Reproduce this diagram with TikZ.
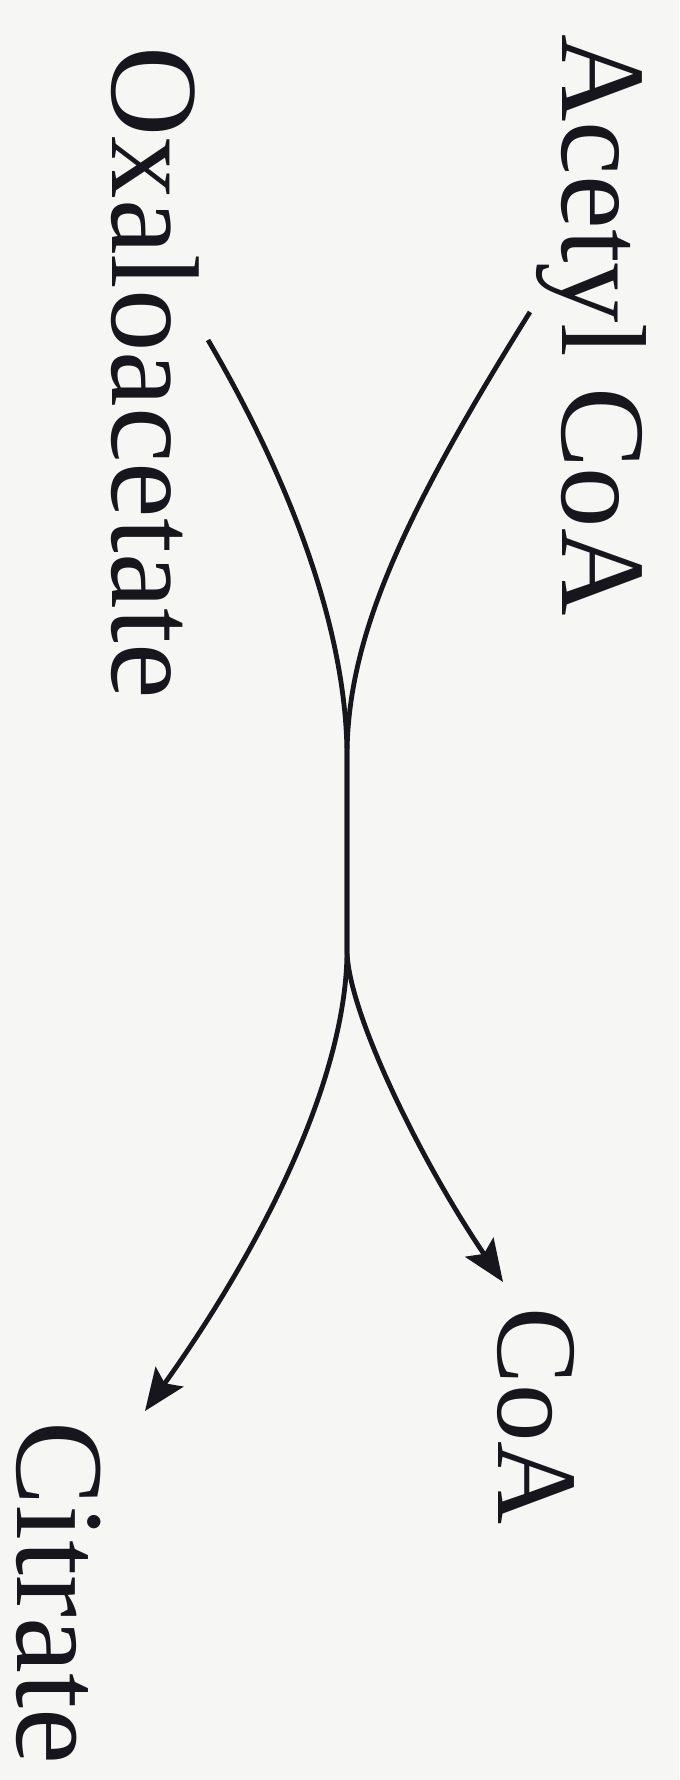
\documentclass[tikz,border=0pt]{standalone}
\usepackage{fontspec}
\setmainfont{Liberation Serif}
\usetikzlibrary{arrows.meta}
\definecolor{cPaper}{RGB}{246,246,244}
\definecolor{cInk}{RGB}{22,22,28}

\begin{document}
\begin{tikzpicture}[x=0.5pt, y=-0.5pt,
    lbl/.style={rotate=-90, anchor=base west, inner sep=0pt, text=cInk},
    rxn/.style={draw=cInk, line width=2.4pt, -{Stealth[length=21pt, width=17pt, inset=4pt]}}]
    \fill[cPaper] (0,0) rectangle (679,1780);
    \useasboundingbox (0,0) rectangle (679,1780);
    % substrates and products
    \node[lbl, font=\fontsize{60.5}{72}\selectfont] (acetyl) at (562,34) {Acetyl CoA};
    \node[lbl, font=\fontsize{62.5}{74}\selectfont] (oxalo) at (112,46) {Oxaloacetate};
    \node[lbl, font=\fontsize{57.5}{68}\selectfont] (coa) at (498,1307) {CoA};
    \node[lbl, font=\fontsize{63}{75}\selectfont] (citrate) at (18,1421) {Citrate};
    % curve ends
    \coordinate (acS) at (530,312);
    \coordinate (oxS) at (208,340);
    \coordinate (mTop) at (347,757);
    \coordinate (mBot) at (347,950);
    \coordinate (coaT) at (503,1282);
    \coordinate (citT) at (145,1411);
    \draw[rxn] (acS) .. controls (400,520) and (347,640) .. (mTop) -- (mBot)
        .. controls (347,1010) and (420,1160) .. (coaT);
    \draw[rxn] (oxS) .. controls (290,480) and (347,630) .. (mTop) -- (mBot)
        .. controls (347,1080) and (260,1250) .. (citT);
\end{tikzpicture}
\end{document}
